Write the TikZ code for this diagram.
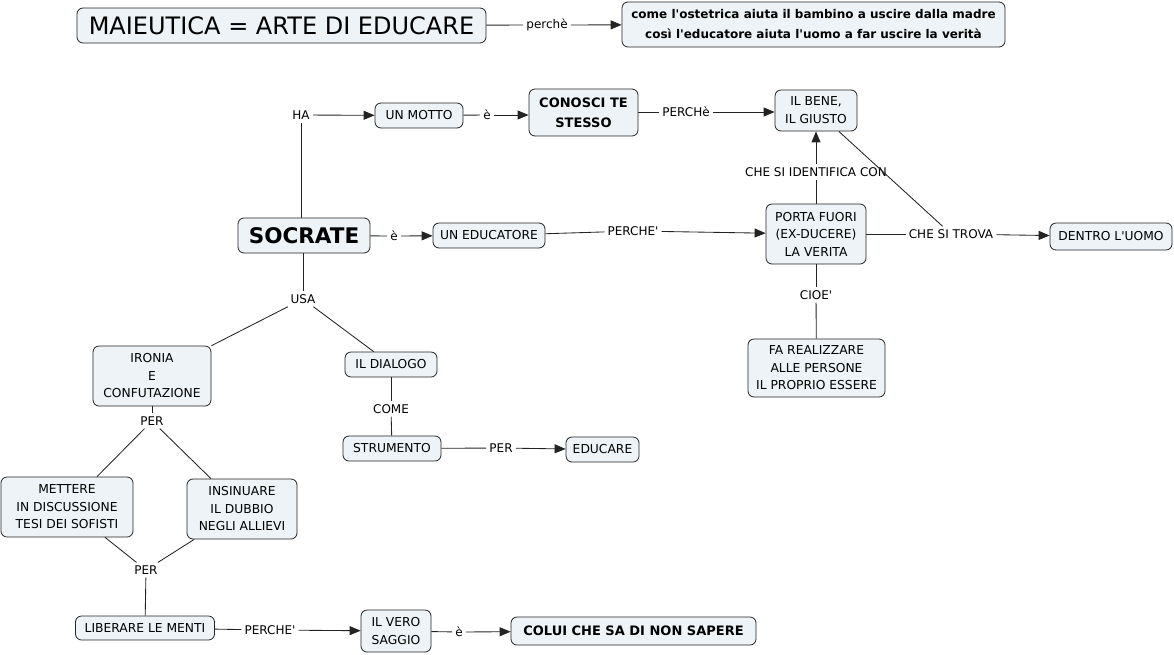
\documentclass[tikz,border=0pt]{standalone}
\usepackage{fontspec}
\setmainfont{DejaVu Sans}
\usetikzlibrary{arrows.meta}
\definecolor{boxfill}{RGB}{237,243,246}
\definecolor{edgec}{RGB}{35,35,35}
\newcommand{\ap}{\textquotesingle}
\begin{document}
\begin{tikzpicture}[x=1pt,y=-1pt,
 box/.style={draw=edgec, fill=boxfill, rounded corners=6pt, line width=0.8pt, align=center, inner sep=0pt, font=\fontsize{12.3}{17.5}\selectfont},
 lbl/.style={inner sep=3pt, font=\fontsize{12}{13}\selectfont},
 con/.style={draw=edgec, line width=0.85pt},
 arr/.style={con, -{Triangle[length=11pt,width=9pt]}}]
\useasboundingbox (0,0) rectangle (1174,654);

% top row
\node[box, minimum width=409pt, minimum height=35pt, font=\fontsize{24}{27}\selectfont] (maie) at (281.5,25.5) {MAIEUTICA = ARTE DI EDUCARE};
\node[lbl] (perche0) at (547,25) {perchè};
\node[box, minimum width=383pt, minimum height=45pt, font=\bfseries\fontsize{12}{20}\selectfont] (come) at (813.5,24.5) {come l\ap ostetrica aiuta il bambino a uscire dalla madre\\così l\ap educatore aiuta l\ap uomo a far uscire la verità};

% motto row
\node[lbl] (ha) at (301,115) {HA};
\node[box, minimum width=88pt, minimum height=25pt] (motto) at (419,115.5) {UN MOTTO};
\node[lbl] (e1) at (487,115) {è};
\node[box, minimum width=109pt, minimum height=47pt, font=\bfseries\fontsize{13}{20}\selectfont] (conosci) at (583.5,112.5) {CONOSCI TE\\STESSO};
\node[lbl] (perche1) at (686,112) {PERCHè};
\node[box, minimum width=82pt, minimum height=41pt, font=\fontsize{12.3}{18}\selectfont] (bene) at (816,110.5) {IL BENE,\\IL GIUSTO};
\node[lbl] (ident) at (816,172) {CHE SI IDENTIFICA CON};

% socrate row
\node[box, minimum width=132pt, minimum height=35pt, font=\bfseries\fontsize{21.5}{24}\selectfont] (socrate) at (304,235.5) {SOCRATE};
\node[lbl] (e2) at (394,236) {è};
\node[box, minimum width=112pt, minimum height=25pt] (educ) at (489,235.5) {UN EDUCATORE};
\node[lbl] (perche2) at (633,231) {PERCHE\ap};
\node[box, minimum width=100pt, minimum height=60pt] (porta) at (816,234) {PORTA FUORI\\(EX-DUCERE)\\LA VERITA};
\node[lbl] (trova) at (951,234) {CHE SI TROVA};
\node[box, minimum width=122pt, minimum height=27pt] (dentro) at (1111,236.5) {DENTRO L\ap UOMO};
\node[lbl] (cioe) at (816,295) {CIOE\ap};
\node[box, minimum width=137pt, minimum height=58pt] (fa) at (816.5,368) {FA REALIZZARE\\ALLE PERSONE\\IL PROPRIO ESSERE};

% lower left
\node[lbl] (usa) at (303,299) {USA};
\node[box, minimum width=118pt, minimum height=60pt] (ironia) at (152,376) {IRONIA\\E\\CONFUTAZIONE};
\node[box, minimum width=92pt, minimum height=25pt] (dialogo) at (391,364.5) {IL DIALOGO};
\node[lbl] (come2) at (391,409) {COME};
\node[box, minimum width=98pt, minimum height=25pt] (strum) at (392,448.5) {STRUMENTO};
\node[lbl] (per1) at (501,448) {PER};
\node[box, minimum width=73pt, minimum height=25pt] (educare) at (602.5,449.5) {EDUCARE};
\node[lbl] (per2) at (152,421) {PER};
\node[box, minimum width=132pt, minimum height=60pt] (mettere) at (67,507) {METTERE\\IN DISCUSSIONE\\TESI DEI SOFISTI};
\node[box, minimum width=110pt, minimum height=60pt] (insin) at (242,509) {INSINUARE\\IL DUBBIO\\NEGLI ALLIEVI};
\node[lbl] (per3) at (146,570) {PER};
\node[box, minimum width=139pt, minimum height=24pt] (liber) at (145,628) {LIBERARE LE MENTI};
\node[lbl] (perche3) at (270,630) {PERCHE\ap};
\node[box, minimum width=70pt, minimum height=42pt, font=\fontsize{12.3}{18}\selectfont] (saggio) at (396,631) {IL VERO\\SAGGIO};
\node[lbl] (e3) at (459,632) {è};
\node[box, minimum width=245pt, minimum height=28pt, font=\bfseries\fontsize{13}{16}\selectfont] (colui) at (633.5,631) {COLUI CHE SA DI NON SAPERE};

% connectors
\draw[con] (maie) -- (perche0);
\draw[arr] (perche0) -- (come);

\draw[con] (ha |- socrate.north) -- (ha);
\draw[arr] (ha) -- (motto);
\draw[con] (motto) -- (e1);
\draw[arr] (e1) -- (conosci.west |- e1);
\draw[con] (conosci.east |- perche1) -- (perche1);
\draw[arr] (perche1) -- (bene.west |- perche1);
\draw[con] (porta) -- (ident);
\draw[arr] (ident) -- (bene);

\draw[con] (socrate) -- (e2);
\draw[arr] (e2) -- (educ);
\draw[con] (educ) -- (perche2);
\draw[arr] (perche2) -- (porta);
\draw[con] (porta) -- (trova);
\draw[con] (bene) -- (trova);
\draw[arr] (trova) -- (dentro);
\draw[con] (porta) -- (cioe);
\draw[con] (cioe) -- (fa);

\draw[con] (usa |- socrate.south) -- (usa);
\draw[con] (usa) -- (ironia);
\draw[con] (usa) -- (dialogo);
\draw[con] (dialogo) -- (come2);
\draw[con] (come2) -- (strum);
\draw[con] (strum) -- (per1);
\draw[arr] (per1) -- (educare);
\draw[con] (ironia) -- (per2);
\draw[con] (per2) -- (mettere);
\draw[con] (per2) -- (insin);
\draw[con] (mettere) -- (per3);
\draw[con] (insin) -- (per3);
\draw[con] (per3) -- (liber);
\draw[con] (liber) -- (perche3);
\draw[arr] (perche3) -- (saggio);
\draw[con] (saggio) -- (e3);
\draw[arr] (e3) -- (colui);
\end{tikzpicture}
\end{document}
